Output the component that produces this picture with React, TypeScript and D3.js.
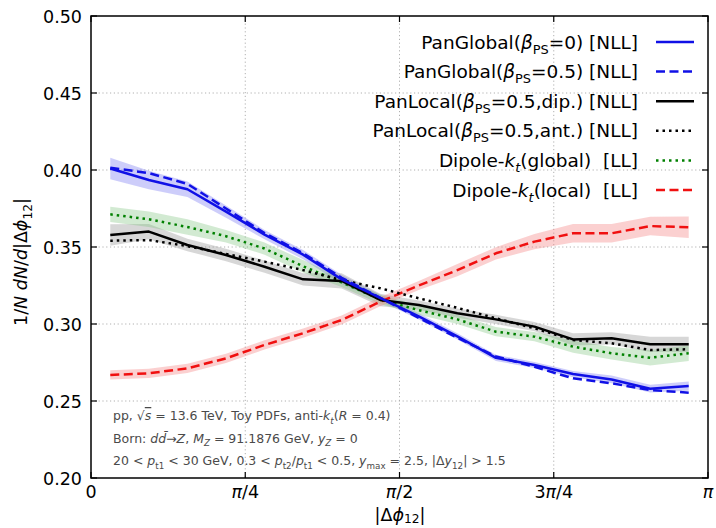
import React from "react";
import * as d3 from "d3";

// bin centres in units of pi/32 (16 bins of width pi/16)
const binCentres = [1, 3, 5, 7, 9, 11, 13, 15, 17, 19, 21, 23, 25, 27, 29, 31];

const panGlobal0 = [0.401, 0.3935, 0.3875, 0.373, 0.358, 0.345, 0.329, 0.317, 0.305, 0.292, 0.278, 0.2734, 0.2675, 0.264, 0.258, 0.2597];
const panGlobal05 = [0.4015, 0.398, 0.391, 0.375, 0.359, 0.346, 0.33, 0.317, 0.304, 0.291, 0.279, 0.2722, 0.2647, 0.2615, 0.2571, 0.2554];
const panLocalDip = [0.3578, 0.36, 0.3513, 0.3448, 0.3372, 0.329, 0.328, 0.3156, 0.3123, 0.307, 0.303, 0.2983, 0.29, 0.2907, 0.2868, 0.2868];
const panLocalAnt = [0.3541, 0.3545, 0.3506, 0.3455, 0.3405, 0.335, 0.3285, 0.3232, 0.3167, 0.3105, 0.3037, 0.2972, 0.2896, 0.2875, 0.2831, 0.2836];
const dipoleGlobal = [0.3712, 0.368, 0.363, 0.357, 0.349, 0.3375, 0.327, 0.316, 0.309, 0.303, 0.295, 0.2918, 0.2853, 0.281, 0.2781, 0.281];
const dipoleLocal = [0.2669, 0.268, 0.2712, 0.2777, 0.2864, 0.294, 0.3026, 0.3145, 0.325, 0.335, 0.3459, 0.3535, 0.3589, 0.3589, 0.3636, 0.3628];

// uncertainty half-widths
const errPanGlobal0 = [0.007, 0.006, 0.005, 0.004, 0.003, 0.003, 0.003, 0.002, 0.002, 0.002, 0.002, 0.002, 0.002, 0.0025, 0.0025, 0.003];
const errPanLocalDip = [0.007, 0.005, 0.004, 0.004, 0.004, 0.004, 0.005, 0.004, 0.003, 0.003, 0.003, 0.003, 0.004, 0.004, 0.005, 0.005];
const errDipoleGlobal = [0.005, 0.005, 0.005, 0.004, 0.004, 0.004, 0.003, 0.003, 0.003, 0.003, 0.003, 0.003, 0.004, 0.004, 0.005, 0.005];
const errDipoleLocal = [0.003, 0.003, 0.003, 0.003, 0.003, 0.003, 0.003, 0.003, 0.003, 0.004, 0.004, 0.005, 0.006, 0.006, 0.006, 0.007];

const yTicks = [0.2, 0.25, 0.3, 0.35, 0.4, 0.45, 0.5];
const yTickLabels = ["0.20", "0.25", "0.30", "0.35", "0.40", "0.45", "0.50"];
const xTicks = [0, Math.PI / 4, Math.PI / 2, (3 * Math.PI) / 4, Math.PI];
const xTickLabels = [["0"], ["π", "/4"], ["π", "/2"], ["3", "π", "/4"], ["π"]];

type Seg = { t: string; i?: boolean; sub?: boolean; over?: boolean };

const richText = (segs: Seg[], size: number, subShift = 0.28) => {
  let shift = 0;
  return segs.map((s, k) => {
    const target = s.sub ? size * subShift : 0;
    const dy = target - shift;
    shift = target;
    return (
      <tspan
        key={k}
        dy={dy}
        fontStyle={s.i ? "italic" : undefined}
        fontSize={s.sub ? size * 0.7 : undefined}
        textDecoration={s.over ? "overline" : undefined}
      >
        {s.t}
      </tspan>
    );
  });
};

const beta: Seg[] = [{ t: "β", i: true }, { t: "PS", sub: true }];

const legendItems: { label: Seg[]; color: string; dash: string | null }[] = [
  { label: [{ t: "PanGlobal(" }, ...beta, { t: "=0) [NLL]" }], color: "#1010e6", dash: null },
  { label: [{ t: "PanGlobal(" }, ...beta, { t: "=0.5) [NLL]" }], color: "#1010e6", dash: "9,4.5" },
  { label: [{ t: "PanLocal(" }, ...beta, { t: "=0.5,dip.) [NLL]" }], color: "#000", dash: null },
  { label: [{ t: "PanLocal(" }, ...beta, { t: "=0.5,ant.) [NLL]" }], color: "#000", dash: "2.5,4" },
  { label: [{ t: "Dipole-" }, { t: "k", i: true }, { t: "t", i: true, sub: true }, { t: "(global)  [LL]" }], color: "#008000", dash: "2.5,4" },
  { label: [{ t: "Dipole-" }, { t: "k", i: true }, { t: "t", i: true, sub: true }, { t: "(local)  [LL]" }], color: "#f01010", dash: "9,4.5" },
];

const annotations: Seg[][] = [
  [
    { t: "pp, √" },
    { t: "s", i: true, over: true },
    { t: " = 13.6 TeV, Toy PDFs, anti-" },
    { t: "k", i: true },
    { t: "t", i: true, sub: true },
    { t: "(" },
    { t: "R", i: true },
    { t: " = 0.4)" },
  ],
  [
    { t: "Born: " },
    { t: "dd̄", i: true },
    { t: "→" },
    { t: "Z", i: true },
    { t: ", " },
    { t: "M", i: true },
    { t: "Z", i: true, sub: true },
    { t: " = 91.1876 GeV, " },
    { t: "y", i: true },
    { t: "Z", i: true, sub: true },
    { t: " = 0" },
  ],
  [
    { t: "20 < " },
    { t: "p", i: true },
    { t: "t1", sub: true },
    { t: " < 30 GeV, 0.3 < " },
    { t: "p", i: true },
    { t: "t2", sub: true },
    { t: "/" },
    { t: "p", i: true },
    { t: "t1", sub: true },
    { t: " < 0.5, " },
    { t: "y", i: true },
    { t: "max", sub: true },
    { t: " = 2.5, |Δ" },
    { t: "y", i: true },
    { t: "12", sub: true },
    { t: "| > 1.5" },
  ],
];

const W = 716;
const H = 528;
const L = 91;
const R = 708;
const T = 16;
const B = 478;
const font = "DejaVu Sans, sans-serif";

export default function App() {
  const x = d3.scaleLinear().domain([0, Math.PI]).range([L, R]);
  const y = d3.scaleLinear().domain([0.2, 0.5]).range([B, T]);
  const phi = binCentres.map((k) => (k * Math.PI) / 32);

  const line = d3
    .line<number>()
    .x((_, i) => x(phi[i]))
    .y((d) => y(d));

  const band = (vals: number[], err: number[]) =>
    d3
      .area<number>()
      .x((_, i) => x(phi[i]))
      .y0((d, i) => y(d - err[i]))
      .y1((d, i) => y(d + err[i]))(vals) || "";

  const bands = [
    { vals: panGlobal0, err: errPanGlobal0, fill: "#6f6ff0", op: 0.35 },
    { vals: panLocalDip, err: errPanLocalDip, fill: "#9a9a9a", op: 0.4 },
    { vals: dipoleGlobal, err: errDipoleGlobal, fill: "#7fc47f", op: 0.35 },
    { vals: dipoleLocal, err: errDipoleLocal, fill: "#f48a8a", op: 0.4 },
  ];

  const curves = [
    { vals: dipoleLocal, color: "#f01010", dash: "9,4.5" },
    { vals: dipoleGlobal, color: "#008000", dash: "2.5,4" },
    { vals: panLocalDip, color: "#000", dash: null },
    { vals: panLocalAnt, color: "#000", dash: "2.5,4" },
    { vals: panGlobal0, color: "#1010e6", dash: null },
    { vals: panGlobal05, color: "#1010e6", dash: "9,4.5" },
  ];

  return (
    <svg width={W} height={H} style={{ position: "absolute", left: 0, top: 0, background: "#fff" }} fontFamily={font}>
      <defs>
        <clipPath id="plot">
          <rect x={L} y={T} width={R - L} height={B - T} />
        </clipPath>
      </defs>

      {/* grid */}
      {yTicks.slice(1, -1).map((v) => (
        <line key={"gy" + v} x1={L} x2={R} y1={y(v)} y2={y(v)} stroke="#b0b0b0" strokeWidth={1} strokeDasharray="1.2,2.6" />
      ))}
      {xTicks.slice(1, -1).map((v, i) => (
        <line key={"gx" + i} x1={x(v)} x2={x(v)} y1={T} y2={B} stroke="#b0b0b0" strokeWidth={1} strokeDasharray="1.2,2.6" />
      ))}

      {/* bands and curves */}
      <g clipPath="url(#plot)">
        {bands.map((b, i) => (
          <path key={"b" + i} d={band(b.vals, b.err)} fill={b.fill} opacity={b.op} />
        ))}
        {curves.map((c, i) => (
          <path
            key={"c" + i}
            d={line(c.vals) || ""}
            fill="none"
            stroke={c.color}
            strokeWidth={2.5}
            strokeDasharray={c.dash || undefined}
            strokeLinejoin="round"
          />
        ))}
      </g>

      {/* annotations */}
      {annotations.map((a, i) => (
        <text key={"a" + i} x={113} y={420 + i * 22.5} fontSize={12.5} fill="#4a4a4a" style={{ whiteSpace: "pre" }}>
          {richText(a, 12.5)}
        </text>
      ))}

      {/* legend */}
      {legendItems.map((it, i) => {
        const cy = 42 + i * 29.6;
        return (
          <g key={"l" + i}>
            <text x={638} y={cy + 6.5} fontSize={18.5} textAnchor="end" style={{ whiteSpace: "pre" }}>
              {richText(it.label, 18.5)}
            </text>
            <line x1={656} x2={694} y1={cy} y2={cy} stroke={it.color} strokeWidth={2.5} strokeDasharray={it.dash || undefined} />
          </g>
        );
      })}

      {/* ticks */}
      {yTicks.map((v) => (
        <g key={"ty" + v}>
          <line x1={L} x2={L + 6} y1={y(v)} y2={y(v)} stroke="#000" strokeWidth={1.2} />
          <line x1={R - 6} x2={R} y1={y(v)} y2={y(v)} stroke="#000" strokeWidth={1.2} />
        </g>
      ))}
      {xTicks.map((v, i) => (
        <g key={"tx" + i}>
          <line x1={x(v)} x2={x(v)} y1={B} y2={B - 6} stroke="#000" strokeWidth={1.2} />
          <line x1={x(v)} x2={x(v)} y1={T} y2={T + 6} stroke="#000" strokeWidth={1.2} />
        </g>
      ))}

      {/* frame */}
      <rect x={L} y={T} width={R - L} height={B - T} fill="none" stroke="#000" strokeWidth={1.5} />

      {/* tick labels */}
      {yTicks.map((v, i) => (
        <text key={"yl" + v} x={82} y={y(v) + 6.5} fontSize={17.5} textAnchor="end">
          {yTickLabels[i]}
        </text>
      ))}
      {xTicks.map((v, i) => (
        <text key={"xl" + i} x={x(v)} y={498} fontSize={17.5} textAnchor="middle">
          {xTickLabels[i].map((s, k) => (
            <tspan key={k} fontStyle={s === "π" ? "italic" : undefined}>
              {s}
            </tspan>
          ))}
        </text>
      ))}

      {/* axis labels */}
      <text x={400} y={521} fontSize={17.5} textAnchor="middle">
        {richText([{ t: "|Δ" }, { t: "ϕ", i: true }, { t: "12", sub: true }, { t: "|" }], 17.5, 0.12)}
      </text>
      <text transform="translate(27,262) rotate(-90)" fontSize={17.5} textAnchor="middle" style={{ whiteSpace: "pre" }}>
        {richText(
          [
            { t: "1/" },
            { t: "N", i: true },
            { t: " " },
            { t: "dN", i: true },
            { t: "/" },
            { t: "d", i: true },
            { t: "|Δ" },
            { t: "ϕ", i: true },
            { t: "12", sub: true },
            { t: "|" },
          ],
          17.5
        )}
      </text>
    </svg>
  );
}
